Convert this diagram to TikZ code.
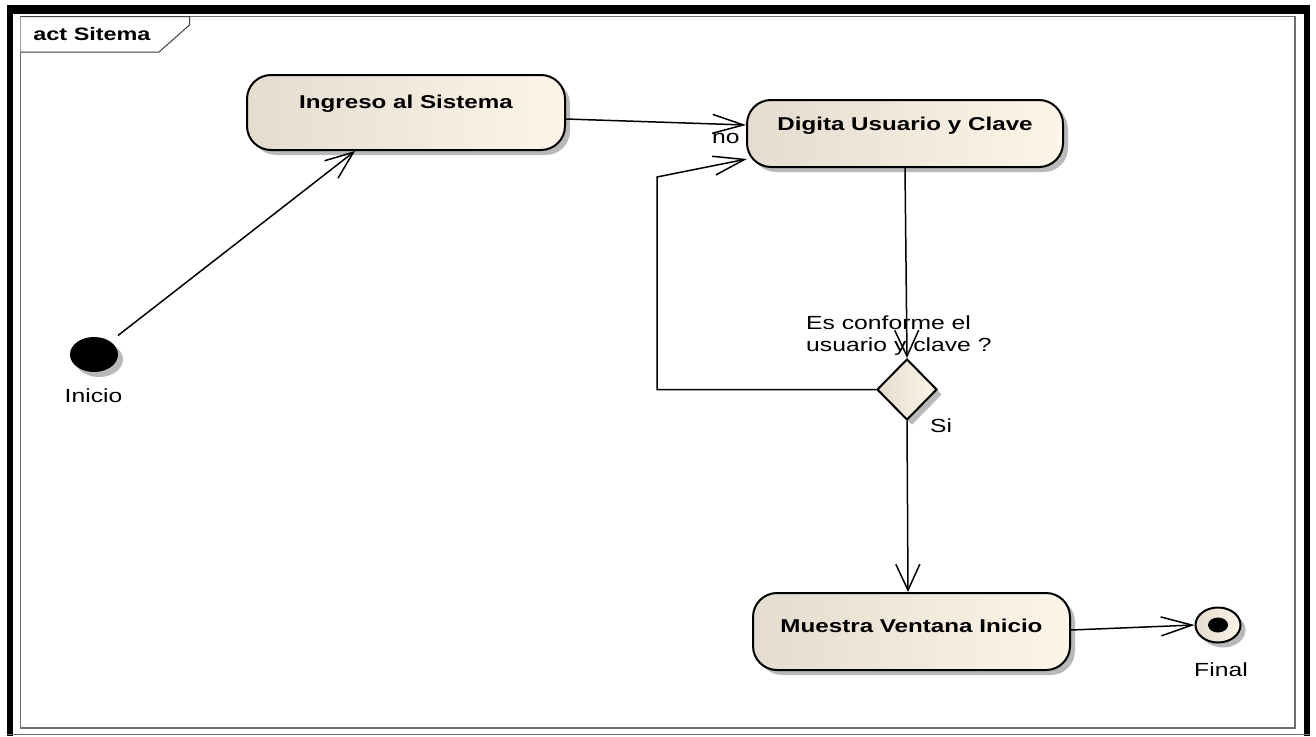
\documentclass[tikz,border=0pt]{standalone}
\usepackage{fontspec}
\setmainfont{Liberation Sans}[FakeStretch=1.3]
\usetikzlibrary{arrows.meta,shapes.geometric,shadows,calc}

\definecolor{actL}{RGB}{228,220,207}
\definecolor{actR}{RGB}{252,245,232}
\definecolor{frameGray}{RGB}{110,110,110}
\definecolor{shadowGray}{RGB}{185,185,185}

\tikzset{
  dropsh/.style={drop shadow={shadow xshift=5pt,shadow yshift=-5pt,fill=shadowGray,opacity=1}},
  actfill/.style={draw=black, line width=2pt, left color=actL, right color=actR},
  actbox/.style={dropsh, actfill, rectangle, rounded corners=24pt, inner sep=0pt},
  acttext/.style={font=\fontsize{18.6}{22}\selectfont\bfseries, inner sep=0pt},
  lbl/.style={font=\fontsize{19}{22}\selectfont, inner sep=0pt},
  conn/.style={draw=black, line width=1.5pt},
  harr/.style={-{Straight Barb[length=31pt,width=19pt]}},
  varr/.style={-{Straight Barb[length=26pt,width=24pt]}},
  darr/.style={-{Straight Barb[length=28pt,width=22pt]}},
}

\begin{document}
\begin{tikzpicture}[x=1pt,y=-1pt]
\useasboundingbox (0,0) rectangle (1316,736);

% outer window border
\fill[black] (7,5) rectangle (1310,13.5);
\fill[black] (7,5) rectangle (12.5,736);
\fill[black] (1304,5) rectangle (1310,736);
\draw[frameGray, line width=1.5pt] (7,734.5) -- (1310,734.5);

% diagram frame and its name tab
\draw[frameGray, line width=1.5pt] (20.5,16.5) rectangle (1295,728);
\draw[black!75, line width=1pt, fill=white] (20.5,16.5) -- (189.5,16.5) -- (189.5,25) -- (159,52) -- (20.5,52);
\node[font=\fontsize{18}{20}\selectfont\bfseries, inner sep=0pt] (tab) at (92,34.5) {act Sitema};

% activities
\node[actbox, minimum width=318pt, minimum height=75pt,
      label={[acttext, yshift=8.5pt]center:Ingreso al Sistema}] (ingreso) at (406,112.5) {};
\node[actbox, minimum width=316pt, minimum height=67pt,
      label={[acttext, yshift=7.5pt]center:Digita Usuario y Clave}] (digita) at (905,133.5) {};
\node[actbox, minimum width=317pt, minimum height=77pt,
      label={[acttext, yshift=6pt]center:Muestra Ventana Inicio}] (muestra) at (911.5,631.5) {};

% initial node, decision, final node
\node[dropsh, ellipse, fill=black, minimum width=48pt, minimum height=35pt, inner sep=0pt] (init) at (94,354.5) {};
\node[lbl, anchor=base] (initlbl) at (93.5,402) {Inicio};

\node[dropsh, actfill, diamond, minimum width=60pt, minimum height=61pt, inner sep=0pt] (dec) at (907,389.5) {};
\node[lbl, anchor=north west] (declbl) at (806,314) {\begin{tabular}{@{}l@{}}Es conforme el\\usuario y clave ?\end{tabular}};
\node[lbl, anchor=base west] (silbl) at (930,432) {Si};
\node[lbl, anchor=base west] (nolbl) at (712,143) {no};

\node[dropsh, actfill, ellipse, minimum width=45pt, minimum height=35pt, inner sep=0pt] (final) at (1218,625) {};
\fill[black] (final.center) ellipse [x radius=10pt, y radius=7.5pt];
\node[lbl, anchor=base] (finallbl) at (1221,676) {Final};

% flows
\draw[conn, darr] ($(init.center)+(24,-19)$) -- ($(ingreso.south)+(-51,0)$);
\draw[conn, harr] ($(ingreso.east)+(0,6.5)$) -- ($(digita.west)+(0,-8.5)$);
\draw[conn, varr] (digita.south) -- (dec.north);
\coordinate (loopT) at (657,177);
\draw[conn, harr] (dec.west) -- (dec.west -| loopT) -- (loopT) -- ($(digita.west)+(1,25.5)$);
\draw[conn, varr] (dec.south) -- ($(muestra.north)+(-3.5,0)$);
\draw[conn, harr] ($(muestra.east)+(0,-1.5)$) -- (final.west);
\end{tikzpicture}
\end{document}
